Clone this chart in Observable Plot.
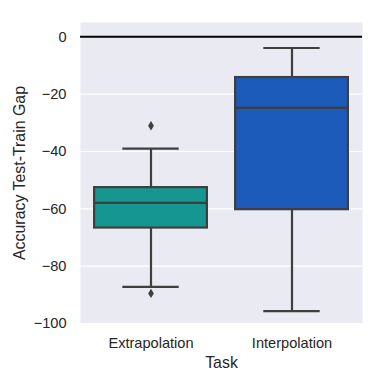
<!DOCTYPE html>
<html>
<head>
<meta charset="utf-8">
<script src="https://cdn.jsdelivr.net/npm/d3@7"></script>
<script src="https://cdn.jsdelivr.net/npm/@observablehq/plot@0.6"></script>
<style>
  html, body { margin: 0; padding: 0; background: #ffffff; }
  #chart { width: 384px; height: 384px; }
</style>
</head>
<body>
<div id="chart"></div>
<script>
// ---- data ----
const tasks = ["Extrapolation", "Interpolation"];
const boxColors = ["#169691", "#1d5bba"];
const q1 = [-66.7, -60.3];
const median = [-57.9, -24.8];
const q3 = [-52.6, -14.2];
const whiskerLow = [-87.2, -95.7];
const whiskerHigh = [-39.0, -3.9];
const outlierTask = [0, 0];
const outlierValue = [-31.0, -89.5];
const yTicks = [0, -20, -40, -60, -80, -100];

const rows = tasks.map((t, i) => ({
  i, task: t, q1: q1[i], med: median[i], q3: q3[i], lo: whiskerLow[i], hi: whiskerHigh[i]
}));
const outliers = outlierTask.map((t, k) => ({i: t, task: tasks[t], v: outlierValue[k]}));

const lineColor = "#3f3f3f";
const lw = 2.2;

// matplotlib-like thin diamond marker
const thinDiamond = {
  draw(ctx, size) {
    const r = Math.sqrt(size / Math.PI);
    const h = r * 1.3, w = r * 0.8;
    ctx.moveTo(0, -h); ctx.lineTo(w, 0); ctx.lineTo(0, h); ctx.lineTo(-w, 0); ctx.closePath();
  }
};

const chart = Plot.plot({
  width: 384,
  height: 384,
  marginLeft: 80,
  marginRight: 22,
  marginTop: 22,
  marginBottom: 61,
  style: { fontFamily: "'Liberation Sans', Arial, sans-serif", color: "#262626", background: "#ffffff" },
  x: { domain: [-0.5, 1.5], axis: null },
  y: { domain: [-100, 5], axis: null },
  color: { domain: tasks, range: boxColors },
  marks: [
    Plot.frame({ fill: "#eaeaf2", stroke: null }),
    Plot.gridY(yTicks, { stroke: "#ffffff", strokeOpacity: 1, strokeWidth: 1.2 }),
    Plot.ruleY([0], { stroke: "#000000", strokeWidth: 2 }),
    Plot.axisY(yTicks, { tickSize: 0, tickPadding: 14, fontSize: 14.6, tickFormat: d3.format("d"), label: null }),
    Plot.axisX([0, 1], { tickSize: 0, tickPadding: 14, fontSize: 14.6, tickFormat: i => tasks[i], label: null }),
    // whiskers
    Plot.ruleX(rows, { x: "i", y1: "q3", y2: "hi", stroke: lineColor, strokeWidth: lw }),
    Plot.ruleX(rows, { x: "i", y1: "q1", y2: "lo", stroke: lineColor, strokeWidth: lw }),
    // caps
    Plot.ruleY(rows, { y: "hi", x1: d => d.i - 0.2, x2: d => d.i + 0.2, stroke: lineColor, strokeWidth: lw }),
    Plot.ruleY(rows, { y: "lo", x1: d => d.i - 0.2, x2: d => d.i + 0.2, stroke: lineColor, strokeWidth: lw }),
    // boxes
    Plot.rectY(rows, { x1: d => d.i - 0.4, x2: d => d.i + 0.4, y1: "q1", y2: "q3", fill: "task", stroke: lineColor, strokeWidth: lw }),
    // medians
    Plot.ruleY(rows, { y: "med", x1: d => d.i - 0.4, x2: d => d.i + 0.4, stroke: lineColor, strokeWidth: lw }),
    // outliers
    Plot.dot(outliers, { x: "i", y: "v", symbol: thinDiamond, r: 3.6, fill: lineColor, stroke: null }),
    // axis titles
    Plot.text(["Accuracy Test-Train Gap"], { frameAnchor: "left", textAnchor: "middle", lineAnchor: "middle", rotate: -90, dx: -61, fontSize: 15.9, fill: "#262626" }),
    Plot.text(["Task"], { frameAnchor: "bottom", textAnchor: "middle", lineAnchor: "middle", dy: 39, fontSize: 15.9, fill: "#262626" })
  ]
});
document.getElementById("chart").appendChild(chart);
</script>
</body>
</html>
